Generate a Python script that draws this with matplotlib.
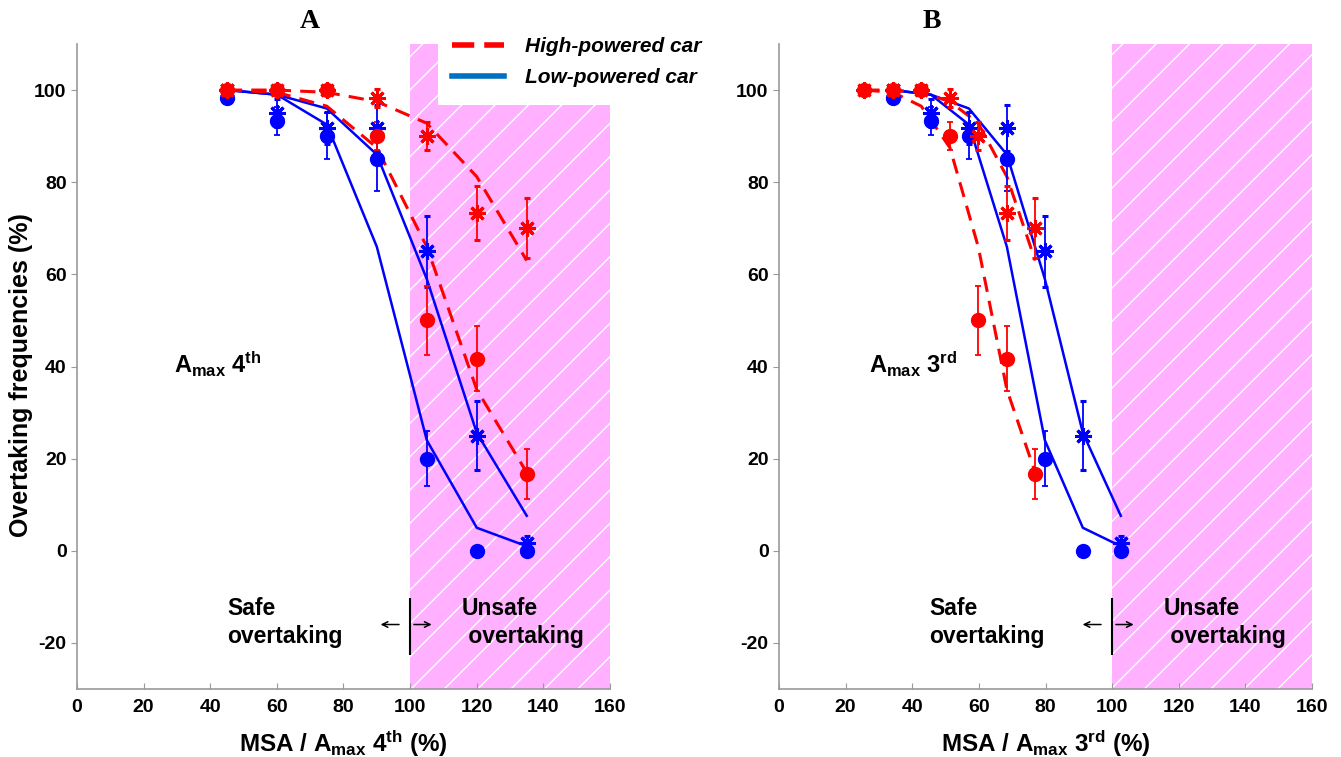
import numpy as np
import matplotlib
matplotlib.use("Agg")
import matplotlib.pyplot as plt
from matplotlib.lines import Line2D
from matplotlib.patches import Rectangle

# MSA / Amax ratio (%) of the tested situations
x_hp_4th = [45, 60, 75, 90, 105, 120, 135]
x_lp_4th = [45, 60, 75, 90, 105, 120, 135]
x_hp_3rd = [25.6, 34.2, 42.7, 51.3, 59.8, 68.4, 76.9]
x_lp_3rd = [34.2, 45.6, 57.0, 68.4, 79.8, 91.2, 102.6]

# observed overtaking frequencies (%), circles and asterisks, with errors
hp_dot = [100, 100, 100, 90, 50, 41.7, 16.7]
hp_dot_err = [0, 0, 0, 3, 7.5, 7, 5.5]
hp_star = [100, 100, 100, 98.3, 90, 73.3, 70]
hp_star_err = [0, 0, 0, 2, 3, 5.8, 6.5]
lp_dot = [98.3, 93.3, 90, 85, 20, 0, 0]
lp_dot_err = [1, 3, 5, 7, 6, 0, 0]
lp_star = [100, 95, 91.7, 91.7, 65, 25, 1.7]
lp_star_err = [0, 3, 3.5, 5, 7.7, 7.5, 1.5]

# model predictions
hp_fit_a = [100, 100, 99.5, 97.5, 92.8, 81.2, 63]
hp_fit_b = [100, 99.5, 96.5, 87.5, 66, 35, 17]
lp_fit_a = [100, 99, 96, 86, 59, 25.6, 7.6]
lp_fit_b = [100, 99, 92.5, 66, 24, 5, 1]

plt.rcParams['font.family'] = ['Liberation Sans', 'DejaVu Sans']
plt.rcParams['mathtext.default'] = 'regular'
plt.rcParams['axes.unicode_minus'] = False
plt.rcParams['hatch.linewidth'] = 1.0

RED = '#ff0000'
BLUE = '#0000ff'
STAR = (8, 2, 0)


def draw_panel(ax, x_hp, x_lp, gear, amax_x):
    ax.axvspan(100, 160, facecolor='#ffb0ff', edgecolor='white', hatch='/', linewidth=0, zorder=0)

    ax.plot(x_lp, lp_fit_a, color=BLUE, lw=1.8, zorder=2)
    ax.plot(x_lp, lp_fit_b, color=BLUE, lw=1.8, zorder=2)
    ax.plot(x_hp, hp_fit_a, color=RED, lw=2.2, ls=(0, (5, 3)), zorder=2)
    ax.plot(x_hp, hp_fit_b, color=RED, lw=2.2, ls=(0, (5, 3)), zorder=2)

    eb = dict(capsize=2.5, elinewidth=1.3, capthick=1.3, linestyle='none', zorder=3)
    ax.errorbar(x_lp, lp_star, yerr=lp_star_err, marker=STAR, ms=12, mew=2.2, color=BLUE, **eb)
    ax.errorbar(x_lp, lp_dot, yerr=lp_dot_err, marker='o', ms=10, color=BLUE, **eb)
    ax.errorbar(x_hp, hp_star, yerr=hp_star_err, marker=STAR, ms=12, mew=2.2, color=RED, **eb)
    ax.errorbar(x_hp, hp_dot, yerr=hp_dot_err, marker='o', ms=10, color=RED, **eb)

    ax.set_xlim(0, 160)
    ax.set_ylim(-30, 110)
    ax.set_xticks(np.arange(0, 161, 20))
    ax.set_yticks(np.arange(-20, 101, 20))
    for s in ['top', 'right']:
        ax.spines[s].set_visible(False)
    for s in ['left', 'bottom']:
        ax.spines[s].set_color('#999999')
        ax.spines[s].set_linewidth(1.2)
    ax.tick_params(axis='x', direction='in', length=4, color='#999999', labelsize=14, pad=7)
    ax.tick_params(axis='y', direction='out', length=4, color='#999999', labelsize=14)
    for lab in ax.get_xticklabels() + ax.get_yticklabels():
        lab.set_fontweight('bold')

    sup = 'th' if gear == '4' else 'rd'
    ax.set_xlabel('MSA / A$_{max}$ ' + gear + '$^{' + sup + '}$ (%)', fontsize=17.5, fontweight='bold',
                  labelpad=9)
    ax.text(amax_x, 38.5, 'A$_{max}$ ' + gear + '$^{' + sup + '}$', fontsize=17, fontweight='bold',
            ha='left', va='baseline')

    ax.text(45, -15.5, 'Safe\novertaking', fontsize=16.5, fontweight='bold', ha='left', va='center',
            linespacing=1.3)
    ax.text(115.5, -15.5, 'Unsafe\n overtaking', fontsize=16.5, fontweight='bold', ha='left', va='center',
            linespacing=1.3)
    ax.vlines(100, -22.6, -10.2, color='black', lw=1.5, zorder=4)
    ax.annotate('', xy=(90.3, -16), xytext=(97.5, -16),
                arrowprops=dict(arrowstyle='->', lw=1.1, color='black'))
    ax.annotate('', xy=(107.3, -16), xytext=(100.3, -16),
                arrowprops=dict(arrowstyle='->', lw=1.1, color='black'))


fig, axes = plt.subplots(1, 2, figsize=(13.41, 7.57), dpi=100)
fig.subplots_adjust(left=0.0574, right=0.9784, bottom=0.0898, top=0.9419, wspace=0.317)

draw_panel(axes[0], x_hp_4th, x_lp_4th, '4', 29)
draw_panel(axes[1], x_hp_3rd, x_lp_3rd, '3', 27)

axes[0].set_ylabel('Overtaking frequencies (%)', fontsize=18, fontweight='bold')
axes[0].yaxis.set_label_coords(-0.082, 0.487)

fig.text(310 / 1341, 1 - 22 / 757, 'A', fontsize=20, fontweight='bold', family='Liberation Serif',
         ha='center', va='center')
fig.text(932 / 1341, 1 - 22 / 757, 'B', fontsize=20, fontweight='bold', family='Liberation Serif',
         ha='center', va='center')

# white box behind the legend
fig.patches.append(Rectangle((438 / 1341, 1 - 105 / 757), 282 / 1341, 77 / 757,
                             transform=fig.transFigure, facecolor='white', edgecolor='none', zorder=4))
handles = [Line2D([], [], color=RED, lw=4, ls=(0, (4, 1.8))),
           Line2D([], [], color='#0070c0', lw=4)]
fig.legend(handles, ['High-powered car', 'Low-powered car'], loc='upper left',
           bbox_to_anchor=(444 / 1341, 1 - 29 / 757), frameon=False, handlelength=2.5,
           handletextpad=1.0, labelspacing=0.55, borderaxespad=0,
           prop=dict(family='Liberation Sans', weight='bold', style='italic', size=15))

fig.savefig('out.png', dpi=100)
